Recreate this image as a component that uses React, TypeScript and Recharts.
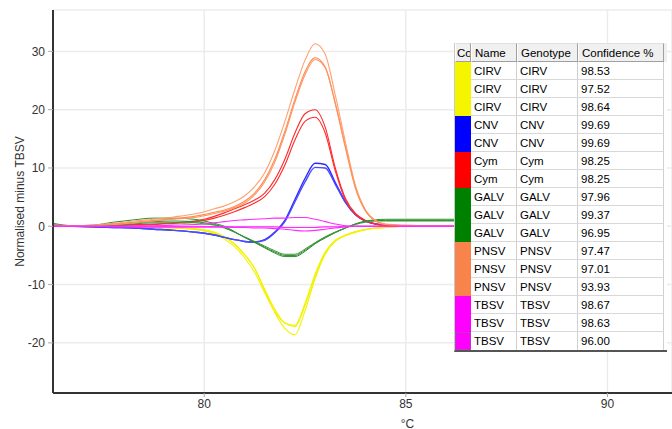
import React from 'react';
import {
  LineChart,
  Line,
  XAxis,
  YAxis,
  CartesianGrid,
} from 'recharts';

const FONT = '"Liberation Sans", Arial, sans-serif';

// temperature grid (°C)
const temps = [
  76.25, 76.75, 77.25, 77.75, 78.25, 78.75, 79.25, 79.75, 80, 80.25, 80.5, 80.75, 81, 81.25, 81.5,
  81.75, 82, 82.25, 82.5, 82.75, 83, 83.25, 83.5, 83.75, 84, 84.25, 84.5, 85, 85.5, 86, 86.5,
];

const cirv1 = [0.1, 0.0, -0.1, -0.1, -0.1, -0.2, -0.2, -0.4, -0.6, -1.0, -1.8, -3.0, -4.8, -7.2, -11.0, -14.8, -17.5, -18.6, -14.5, -9.0, -4.8, -2.6, -1.6, -1.0, -0.6, -0.3, -0.2, 0.0, 0.0, 0.0, 0.0];
const cirv2 = [0.1, 0.0, -0.1, -0.1, -0.1, -0.2, -0.3, -0.5, -0.7, -1.1, -1.9, -3.1, -4.9, -7.2, -10.8, -14.2, -16.6, -17.2, -13.6, -8.5, -4.6, -2.5, -1.6, -1.0, -0.6, -0.3, -0.2, 0.0, 0.0, 0.0, 0.0];
const cirv3 = [0.1, 0.0, -0.1, -0.1, -0.2, -0.2, -0.3, -0.5, -0.8, -1.3, -2.2, -3.5, -5.4, -7.9, -11.4, -14.6, -16.6, -17.0, -13.2, -8.2, -4.4, -2.4, -1.5, -0.9, -0.5, -0.3, -0.2, 0.0, 0.0, 0.0, 0.0];
const cnv1 = [0.1, 0.0, -0.1, -0.2, -0.3, -0.5, -0.7, -1.0, -1.2, -1.5, -1.9, -2.3, -2.6, -2.7, -2.3, -1.0, 1.0, 4.6, 8.2, 10.8, 10.6, 7.5, 4.2, 2.0, 0.9, 0.4, 0.2, 0.1, 0.1, 0.1, 0.1];
const cnv2 = [0.1, 0.0, -0.1, -0.2, -0.3, -0.5, -0.7, -1.0, -1.2, -1.5, -1.9, -2.3, -2.6, -2.7, -2.4, -1.1, 0.8, 4.2, 7.6, 10.1, 10.0, 7.2, 4.1, 2.0, 0.9, 0.4, 0.2, 0.1, 0.1, 0.1, 0.1];
const cym1 = [0.1, 0.0, 0.1, 0.2, 0.3, 0.4, 0.6, 0.9, 1.2, 1.7, 2.3, 3.0, 3.7, 4.5, 5.7, 8.0, 11.5, 16.0, 19.3, 20.0, 17.0, 10.0, 4.8, 2.2, 1.0, 0.4, 0.2, 0.1, 0.0, 0.0, 0.0];
const cym2 = [0.0, 0.0, 0.0, 0.1, 0.2, 0.3, 0.5, 0.7, 1.0, 1.4, 1.9, 2.5, 3.2, 4.0, 5.1, 7.2, 10.5, 14.8, 18.0, 18.7, 16.0, 9.5, 4.5, 2.0, 0.9, 0.4, 0.2, 0.1, 0.0, 0.0, 0.0];
const galv1 = [0.5, 0.1, 0.2, 0.7, 1.1, 1.4, 1.4, 1.2, 0.9, 0.5, 0.0, -0.9, -1.9, -2.8, -3.7, -4.6, -5.2, -5.2, -4.3, -3.0, -2.0, -1.1, -0.3, 0.4, 0.9, 1.1, 1.2, 1.2, 1.2, 1.2, 1.2];
const galv2 = [0.3, 0.0, 0.1, 0.3, 0.6, 0.8, 0.9, 0.8, 0.6, 0.3, -0.2, -1.0, -1.9, -2.7, -3.6, -4.4, -5.0, -5.0, -4.1, -2.9, -1.9, -1.0, -0.3, 0.4, 0.8, 1.0, 1.0, 1.0, 1.0, 1.0, 1.0];
const galv3 = [0.2, 0.0, 0.0, 0.2, 0.4, 0.6, 0.6, 0.6, 0.4, 0.2, -0.3, -1.0, -1.8, -2.6, -3.4, -4.2, -4.8, -4.8, -3.9, -2.8, -1.8, -1.0, -0.3, 0.3, 0.7, 0.9, 0.9, 0.9, 0.9, 0.9, 0.9];
const pnsv1 = [0.2, 0.1, 0.2, 0.5, 0.9, 1.2, 1.6, 2.1, 2.5, 3.0, 3.5, 4.2, 5.2, 6.8, 9.2, 13.0, 18.0, 23.5, 28.5, 31.3, 29.5, 22.5, 14.5, 7.0, 2.8, 1.0, 0.4, 0.2, 0.1, 0.1, 0.1];
const pnsv2 = [0.1, 0.0, 0.1, 0.4, 0.7, 1.0, 1.3, 1.7, 2.0, 2.4, 2.8, 3.4, 4.3, 5.7, 8.0, 11.5, 16.3, 21.8, 26.5, 28.9, 27.3, 21.0, 13.5, 6.5, 2.6, 0.9, 0.3, 0.1, 0.1, 0.1, 0.1];
const pnsv3 = [0.1, 0.0, 0.1, 0.3, 0.6, 0.9, 1.2, 1.5, 1.8, 2.2, 2.6, 3.2, 4.0, 5.4, 7.6, 11.0, 15.8, 21.3, 26.0, 28.6, 27.2, 21.2, 13.8, 6.7, 2.7, 0.9, 0.3, 0.1, 0.1, 0.1, 0.1];
const tbsv1 = [0.0, 0.0, 0.0, 0.0, 0.1, 0.1, 0.2, 0.3, 0.4, 0.6, 0.8, 1.0, 1.1, 1.2, 1.3, 1.4, 1.4, 1.5, 1.5, 1.2, 0.8, 0.4, 0.1, 0.0, 0.0, 0.0, 0.0, 0.0, 0.0, 0.0, 0.0];
const tbsv2 = [0.0, 0.0, 0.0, -0.1, -0.1, -0.1, -0.1, -0.1, -0.1, -0.1, -0.1, -0.2, -0.2, -0.3, -0.3, -0.4, -0.5, -0.7, -0.8, -0.7, -0.5, -0.3, -0.1, 0.0, 0.0, 0.0, 0.0, 0.0, 0.0, 0.0, 0.0];
const tbsv3 = [0.1, 0.0, 0.0, 0.0, -0.1, -0.1, -0.1, -0.1, -0.1, -0.1, -0.1, -0.1, -0.1, -0.1, -0.1, -0.1, -0.2, -0.2, -0.2, -0.2, -0.1, -0.1, 0.0, 0.0, 0.0, 0.0, 0.0, 0.0, 0.0, 0.0, 0.0];

// table / legend rows
const names = ['CIRV', 'CIRV', 'CIRV', 'CNV', 'CNV', 'Cym', 'Cym', 'GALV', 'GALV', 'GALV', 'PNSV', 'PNSV', 'PNSV', 'TBSV', 'TBSV', 'TBSV'];
const genotypes = ['CIRV', 'CIRV', 'CIRV', 'CNV', 'CNV', 'Cym', 'Cym', 'GALV', 'GALV', 'GALV', 'PNSV', 'PNSV', 'PNSV', 'TBSV', 'TBSV', 'TBSV'];
const confidence = ['98.53', '97.52', '98.64', '99.69', '99.69', '98.25', '98.25', '97.96', '99.37', '96.95', '97.47', '97.01', '93.93', '98.67', '98.63', '96.00'];
const swatches = ['#f5f500', '#f5f500', '#f5f500', '#0000ff', '#0000ff', '#ff0000', '#ff0000', '#008000', '#008000', '#008000', '#f8844c', '#f8844c', '#f8844c', '#ff00ff', '#ff00ff', '#ff00ff'];

const xTicks = [80, 85, 90];
const yTicks = [-20, -10, 0, 10, 20, 30];

const seriesList = [
  { key: 'cirv1', values: cirv1, color: '#f2f200', width: 1.1 },
  { key: 'cirv2', values: cirv2, color: '#f2f200', width: 1.1 },
  { key: 'cirv3', values: cirv3, color: '#f2f200', width: 1.1 },
  { key: 'cnv1', values: cnv1, color: '#2a2aff', width: 1.4 },
  { key: 'cnv2', values: cnv2, color: '#4a4aff', width: 1.4 },
  { key: 'cym1', values: cym1, color: '#ff2a2a', width: 1.1 },
  { key: 'cym2', values: cym2, color: '#ff2a2a', width: 1.1 },
  { key: 'galv1', values: galv1, color: '#2a8c2a', width: 1 },
  { key: 'galv2', values: galv2, color: '#2a8c2a', width: 1 },
  { key: 'galv3', values: galv3, color: '#3a963a', width: 1 },
  { key: 'pnsv1', values: pnsv1, color: '#ffa070', width: 1.1 },
  { key: 'pnsv2', values: pnsv2, color: '#ff8a55', width: 1.1 },
  { key: 'pnsv3', values: pnsv3, color: '#ff9560', width: 1.1 },
  { key: 'tbsv1', values: tbsv1, color: '#ff2aff', width: 1.1 },
  { key: 'tbsv2', values: tbsv2, color: '#ff2aff', width: 1.1 },
  { key: 'tbsv3', values: tbsv3, color: '#ff2aff', width: 1.1 },
];

const chartData = temps.map((t, i) => {
  const row: Record<string, number> = { t };
  seriesList.forEach(s => {
    row[s.key] = s.values[i];
  });
  return row;
});

const colWidths = [16, 46, 61, 86];
const headers = ['Co', 'Name', 'Genotype', 'Confidence %'];

const cellBase: React.CSSProperties = {
  boxSizing: 'border-box',
  overflow: 'hidden',
  whiteSpace: 'nowrap',
  paddingLeft: 3,
  height: '100%',
};

const ResultTable = () => (
  <div
    style={{
      position: 'absolute',
      left: 454,
      top: 43,
      width: 212,
      background: '#fff',
      fontFamily: FONT,
      fontSize: 11.5,
      color: '#000',
      borderBottom: '2px solid #555',
      borderLeft: '1px solid #c8c8c8',
    }}
  >
    <div style={{ display: 'flex', height: 19, background: '#f0f0f0' }}>
      {headers.map((h, i) => (
        <div
          key={h}
          style={{
            ...cellBase,
            width: colWidths[i],
            paddingLeft: i === 0 ? 1 : 3,
            lineHeight: '18px',
            borderTop: '1px solid #e0e0e0',
            borderBottom: '1px solid #a0a0a0',
            borderRight: '1px solid #a0a0a0',
            borderLeft: '1px solid #fff',
          }}
        >
          {h}
        </div>
      ))}
    </div>
    {names.map((n, r) => (
      <div key={r} style={{ display: 'flex', height: 18 }}>
        <div
          style={{
            width: colWidths[0],
            height: '100%',
            boxSizing: 'border-box',
            background: swatches[r],
            outline: r === names.length - 1 ? '1px dotted #777' : undefined,
            outlineOffset: -1,
          }}
        />
        {[n, genotypes[r], confidence[r]].map((txt, c) => (
          <div
            key={c}
            style={{
              ...cellBase,
              width: colWidths[c + 1],
              lineHeight: '19px',
              borderRight: '1px solid #d0d0d0',
              borderBottom: r === names.length - 1 ? undefined : '1px solid #d8d8d8',
            }}
          >
            {txt}
          </div>
        ))}
      </div>
    ))}
  </div>
);

const App: React.FC = () => {
  const tickStyle = { fontSize: 12, fill: '#333', fontFamily: FONT };
  return (
    <div style={{ position: 'absolute', left: 0, top: 0, width: 672, height: 429, background: '#fff', overflow: 'hidden' }}>
      <LineChart
        width={672}
        height={429}
        data={chartData}
        margin={{ top: 10, right: 0, bottom: 0, left: 8 }}
      >
        <CartesianGrid stroke="#ececec" strokeWidth={1.5} />
        <XAxis
          dataKey="t"
          type="number"
          domain={[76.25, 91.6]}
          ticks={xTicks}
          allowDataOverflow
          height={36}
          tickSize={4}
          tickMargin={2}
          axisLine={{ stroke: '#333', strokeWidth: 2 }}
          tickLine={{ stroke: '#aaa' }}
          tick={tickStyle}
          label={{ value: '°C', position: 'insideBottom', offset: 1, dx: 45, style: { fontSize: 12, fill: '#333', fontFamily: FONT } }}
        />
        <XAxis
          xAxisId="top"
          orientation="top"
          type="number"
          domain={[76.25, 91.6]}
          allowDataOverflow
          height={0}
          tick={false}
          tickLine={false}
          axisLine={{ stroke: '#555', strokeWidth: 2 }}
        />
        <YAxis
          type="number"
          domain={[-28.6, 37.1]}
          ticks={yTicks}
          allowDataOverflow
          width={45}
          tickSize={5}
          tickMargin={3}
          axisLine={{ stroke: '#333', strokeWidth: 2 }}
          tickLine={{ stroke: '#aaa' }}
          tick={tickStyle}
          label={{
            value: 'Normalised minus TBSV',
            angle: -90,
            position: 'insideLeft',
            offset: 12,
            style: { textAnchor: 'middle', fontSize: 12, fill: '#333', fontFamily: FONT },
          }}
        />
        {seriesList.map(s => (
          <Line
            key={s.key}
            type="monotone"
            dataKey={s.key}
            stroke={s.color}
            strokeWidth={s.width}
            dot={false}
            isAnimationActive={false}
          />
        ))}
      </LineChart>
      <ResultTable />
    </div>
  );
};

export default App;
